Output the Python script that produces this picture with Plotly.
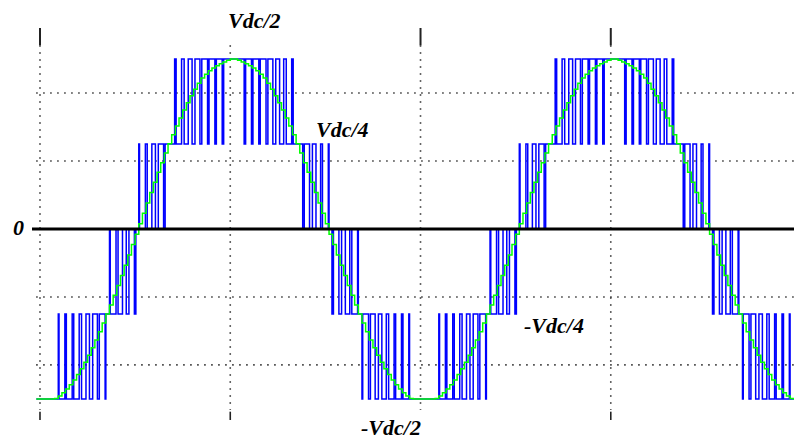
import plotly.graph_objects as go

# ---------------- data ----------------
# sample-and-hold reference (green), one value per half carrier period, in units of Vdc/2
half_carrier_ms = 0.192308
t_start_ms = -0.192308
t_end_ms = 40.05
lead_in = [-1]
period_1 = [
    -1, -1, -1, -1, -0.997, -0.983, -0.964, -0.942, -0.917, -0.888, -0.857, -0.822, -0.784,
    -0.743, -0.699, -0.653, -0.605, -0.554, -0.501, -0.447, -0.390, -0.333, -0.274, -0.214,
    -0.153, -0.092, -0.031, 0.031, 0.092, 0.153, 0.214, 0.274, 0.333, 0.390, 0.447, 0.501,
    0.554, 0.605, 0.653, 0.699, 0.743, 0.784, 0.822, 0.857, 0.888, 0.910, 0.930, 0.947,
    0.960, 0.972, 0.982, 0.993,
    1, 1, 0.993, 0.982, 0.972, 0.960, 0.947, 0.930, 0.910, 0.888,
    0.857, 0.822, 0.784, 0.743, 0.699, 0.653, 0.605, 0.554, 0.501, 0.447, 0.390, 0.333,
    0.274, 0.214, 0.153, 0.092, 0.031,
    -0.031, -0.092, -0.153, -0.214, -0.274, -0.333, -0.390, -0.447, -0.501, -0.554, -0.605,
    -0.653, -0.699, -0.743, -0.784, -0.822, -0.857, -0.888, -0.917, -0.942, -0.964, -0.983,
    -0.997, -1, -1,
]
period_2 = [
    -1, -1, -1, -1, -0.997, -0.983, -0.964, -0.942, -0.917, -0.888, -0.857, -0.822, -0.784,
    -0.743, -0.699, -0.653, -0.605, -0.554, -0.501, -0.447, -0.390, -0.333, -0.274, -0.214,
    -0.153, -0.092, -0.031, 0.031, 0.092, 0.153, 0.214, 0.274, 0.333, 0.390, 0.447, 0.501,
    0.554, 0.605, 0.653, 0.699, 0.743, 0.784, 0.822, 0.857, 0.888, 0.910, 0.930, 0.947,
    0.960, 0.972, 0.982, 0.993,
    1, 1, 0.993, 0.982, 0.972, 0.960, 0.947, 0.930, 0.910, 0.888,
    0.857, 0.822, 0.784, 0.743, 0.699, 0.653, 0.605, 0.554, 0.501, 0.447, 0.390, 0.333,
    0.274, 0.214, 0.153, 0.092, 0.031,
    -0.031, -0.092, -0.153, -0.214, -0.274, -0.333, -0.390, -0.447, -0.501, -0.554, -0.605,
    -0.653, -0.699, -0.743, -0.784, -0.822, -0.857, -0.888, -0.917, -0.942, -0.964, -0.983,
    -0.997, -1, -1,
]
ref_samples = lead_in + period_1 + period_2

# inverter voltage levels (units of Vdc/2) and their labels
levels = [-1, -0.5, 0, 0.5, 1]
level_labels = ["-Vdc/2", "-Vdc/4", "0", "Vdc/4", "Vdc/2"]

# scope grid
x_grid = [0, 10, 20, 30, 40]
y_grid = [-0.8, -0.4, 0.4, 0.8]
top_ticks = [0, 20, 30, 40]
bottom_ticks = [0, 10, 30, 40]

X_MIN, X_MAX = -0.42, 40.05
Y_MIN, Y_MAX = -1.124, 1.182

# ---------------- build the 5-level PWM (blue) from the samples ----------------
step = levels[1] - levels[0]
MIN_FRAC = 0.2   # narrowest visible pulse / notch, as a fraction of a half carrier


def band(r):
    low = levels[0]
    for lv in levels[:-1]:
        if r > lv:
            low = lv
    d = (r - low) / step
    if d < 0.03:
        d = 0.0
    elif d > 0.985:
        d = 1.0
    else:
        d = min(max(d, MIN_FRAC), 1 - MIN_FRAC)
    return low, d


# list of (time, new level) switching events
events = []
for j, r in enumerate(ref_samples):
    s = t_start_ms + j * half_carrier_ms
    low, d = band(r)
    high = low + step
    if (j - 1) % 2 == 0:  # rising half of carrier: low then high
        events.append((s, low))
        events.append((s + half_carrier_ms * (1 - d), high))
    else:  # falling half: high then low
        events.append((s, high))
        events.append((s + half_carrier_ms * d, low))

# events at the same instant: only the last one counts (no zero-width spikes)
dedup = []
for ev in events:
    if dedup and abs(ev[0] - dedup[-1][0]) < 1e-9:
        dedup[-1] = ev
    else:
        dedup.append(ev)

# explicit staircase polyline
blue_x, blue_y = [dedup[0][0]], [dedup[0][1]]
level_now = dedup[0][1]
for t, lv in dedup[1:]:
    if abs(lv - level_now) > 1e-12:
        blue_x += [t, t]
        blue_y += [level_now, lv]
        level_now = lv
blue_x.append(t_end_ms)
blue_y.append(level_now)

green_x = [t_start_ms + j * half_carrier_ms for j in range(len(ref_samples))] + [t_end_ms]
green_y = list(ref_samples) + [ref_samples[-1]]

# ---------------- figure ----------------
fig = go.Figure()
dot = "1.5px,5.5px"
grid_color = "#333333"

# vertical dotted grid
vx, vy = [], []
for g in x_grid:
    vx += [g, g, None]
    vy += [1.08, -1.065, None]
fig.add_trace(go.Scatter(x=vx, y=vy, mode="lines",
                         line=dict(color=grid_color, width=1.6, dash=dot), hoverinfo="skip"))
# horizontal dotted grid
hx, hy = [], []
for g in y_grid:
    hx += [-0.2, X_MAX, None]
    hy += [g, g, None]
fig.add_trace(go.Scatter(x=hx, y=hy, mode="lines",
                         line=dict(color=grid_color, width=1.6, dash=dot), hoverinfo="skip"))
# tick marks
tx, ty = [], []
for g in top_ticks:
    tx += [g, g, None]
    ty += [1.08, 1.182, None]
fig.add_trace(go.Scatter(x=tx, y=ty, mode="lines",
                         line=dict(color="#222222", width=2), hoverinfo="skip"))
bx2, by2 = [], []
for g in bottom_ticks:
    bx2 += [g, g, None]
    by2 += [-1.075, -1.124, None]
fig.add_trace(go.Scatter(x=bx2, y=by2, mode="lines",
                         line=dict(color="#222222", width=1.6), hoverinfo="skip"))

# PWM output (blue)
fig.add_trace(go.Scatter(x=blue_x, y=blue_y, mode="lines",
                         line=dict(color="#0000ff", width=1.5, simplify=False), hoverinfo="skip"))
# sampled reference (green)
fig.add_trace(go.Scatter(x=green_x, y=green_y, mode="lines", line_shape="hv",
                         line=dict(color="#00ff00", width=1.5, simplify=False), hoverinfo="skip"))
# zero line
fig.add_trace(go.Scatter(x=[X_MIN, X_MAX], y=[0, 0], mode="lines",
                         line=dict(color="#000000", width=3), hoverinfo="skip"))

# level labels (paper coordinates)
label_pos = {
    "Vdc/2": (0.2896, 1.018),
    "Vdc/4": (0.4026, 0.742),
    "0": (-0.0169, 0.4898),
    "-Vdc/4": (0.678, 0.2398),
    "-Vdc/2": (0.4662, -0.0204),
}
for lab in level_labels:
    x, y = label_pos[lab]
    fig.add_annotation(x=x, y=y, xref="paper", yref="paper", text=lab, showarrow=False,
                       xanchor="center", yanchor="middle",
                       font=dict(family="Liberation Serif", size=22, color="#000000",
                                 weight="bold", style="italic"))

# the page body adds an 8px offset; margins compensate for it
fig.update_layout(
    width=794, height=431,
    margin=dict(l=24, r=0, t=20, b=19),
    plot_bgcolor="#ffffff", paper_bgcolor="#ffffff",
    showlegend=False, hovermode=False,
    xaxis=dict(range=[X_MIN, X_MAX], visible=False, fixedrange=True),
    yaxis=dict(range=[Y_MIN, Y_MAX], visible=False, fixedrange=True),
)

fig.write_html("out.html")
